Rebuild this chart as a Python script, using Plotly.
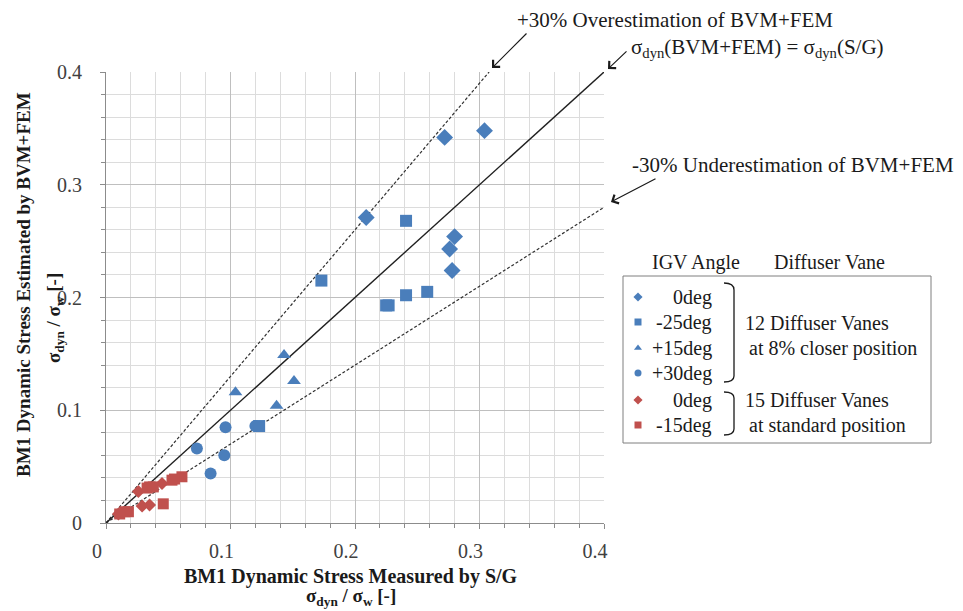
import plotly.graph_objects as go

# ---------------- data ----------------
blue_dia_x = [0.272, 0.304, 0.209, 0.280, 0.276, 0.278]
blue_dia_y = [0.342, 0.348, 0.271, 0.254, 0.243, 0.224]

blue_sq_x = [0.241, 0.173, 0.241, 0.258, 0.225, 0.227, 0.123]
blue_sq_y = [0.268, 0.215, 0.202, 0.205, 0.193, 0.193, 0.086]

blue_tri_x = [0.143, 0.151, 0.104, 0.137]
blue_tri_y = [0.149, 0.126, 0.116, 0.104]

blue_cir_x = [0.096, 0.120, 0.073, 0.095, 0.084]
blue_cir_y = [0.085, 0.086, 0.066, 0.060, 0.044]

red_dia_x = [0.026, 0.045, 0.029, 0.035, 0.010]
red_dia_y = [0.028, 0.035, 0.015, 0.016, 0.008]

red_sq_x = [0.061, 0.055, 0.053, 0.035, 0.033, 0.038, 0.046, 0.015, 0.018, 0.011]
red_sq_y = [0.041, 0.039, 0.038, 0.032, 0.031, 0.032, 0.017, 0.010, 0.010, 0.008]

# reference lines
eq_x, eq_y = [0, 0.4], [0, 0.4]
over_x, over_y = [0, 0.4 / 1.3], [0, 0.4]
under_x, under_y = [0, 0.4], [0, 0.28]

x_ticks = [0, 0.1, 0.2, 0.3, 0.4]
y_ticks = [0, 0.1, 0.2, 0.3, 0.4]

legend_labels = ["0deg", "-25deg", "+15deg", "+30deg", "0deg", "-15deg"]
legend_symbols = ["diamond", "square", "triangle-up", "circle", "diamond", "square"]
BLUE = "#4a7ebb"
RED = "#c0504d"
legend_colors = [BLUE, BLUE, BLUE, BLUE, RED, RED]

W, H = 963, 611
SERIF = "Liberation Serif"

fig = go.Figure()

# reference lines
fig.add_trace(go.Scatter(x=over_x, y=over_y, mode="lines",
                         line=dict(color="#303030", width=1.2, dash="3px,2px"),
                         hoverinfo="skip"))
fig.add_trace(go.Scatter(x=under_x, y=under_y, mode="lines",
                         line=dict(color="#303030", width=1.2, dash="3px,2px"),
                         hoverinfo="skip"))
fig.add_trace(go.Scatter(x=eq_x, y=eq_y, mode="lines",
                         line=dict(color="#202020", width=1.4), hoverinfo="skip"))

def pts(x, y, sym, col, size):
    fig.add_trace(go.Scatter(x=x, y=y, mode="markers",
                             marker=dict(symbol=sym, color=col, size=size,
                                         line=dict(width=0))))

pts(red_dia_x, red_dia_y, "diamond", RED, 10)
pts(red_sq_x, red_sq_y, "square", RED, 11)
pts(blue_cir_x, blue_cir_y, "circle", BLUE, 12)
pts(blue_tri_x, blue_tri_y, "triangle-up", BLUE, 12)
pts(blue_sq_x, blue_sq_y, "square", BLUE, 12)
pts(blue_dia_x, blue_dia_y, "diamond", BLUE, 13)

# legend markers on a pixel overlay axis
leg_rows_y = [297, 322, 348, 373, 400, 425]
for sym, col, ry in zip(legend_symbols, legend_colors, leg_rows_y):
    fig.add_trace(go.Scatter(x=[638], y=[ry], mode="markers", xaxis="x2", yaxis="y2",
                             marker=dict(symbol=sym, color=col, size=7, line=dict(width=0)),
                             hoverinfo="skip"))

axis_common = dict(
    range=[0, 0.4], tick0=0, dtick=0.1,
    showgrid=True, gridcolor="#bfbfbf", gridwidth=1,
    minor=dict(dtick=0.02, showgrid=True, gridcolor="#dcdcdc", gridwidth=1,
               ticks="outside", ticklen=4, tickcolor="#8c8c8c"),
    ticks="outside", ticklen=5, tickcolor="#8c8c8c",
    showline=True, linecolor="#8c8c8c", linewidth=1,
    zeroline=False, automargin=False,
    tickfont=dict(family=SERIF, size=20, color="#404040"),
    fixedrange=True,
)

fig.update_layout(
    width=W, height=H,
    margin=dict(l=0, r=0, t=0, b=0, autoexpand=False),
    paper_bgcolor="white", plot_bgcolor="rgba(0,0,0,0)",
    showlegend=False,
    font=dict(family=SERIF),
    xaxis=dict(domain=[106 / W, 604 / W], anchor="y", ticklabelshift=-9,
               ticklabelstandoff=5, **axis_common),
    yaxis=dict(domain=[(H - 523) / H, (H - 72) / H], anchor="x",
               ticklabelstandoff=14, **axis_common),
    xaxis2=dict(domain=[0, 1], range=[0, W], visible=False, anchor="y2",
                fixedrange=True, automargin=False),
    yaxis2=dict(domain=[0, 1], range=[H, 0], visible=False, anchor="x2",
                fixedrange=True, automargin=False),
)

ann = []

def txt(x, y, s, size=20, bold=False, xanchor="left", angle=0, color="#1a1a1a"):
    if bold:
        s = "<b>" + s + "</b>"
    ann.append(dict(x=x, y=y, xref="x2", yref="y2", text=s, showarrow=False,
                    xanchor=xanchor, yanchor="middle", textangle=angle,
                    font=dict(family=SERIF, size=size, color=color)))

SIG = "σ<sub>dyn</sub> / σ<sub>w</sub> [-]"
# axis titles
txt(351, 576, "BM1 Dynamic Stress Measured by S/G", size=20, bold=True, xanchor="center")
txt(351, 597, SIG, size=19, bold=True, xanchor="center")
txt(23, 285, "BM1 Dynamic Stress Estimated by BVM+FEM", size=19, bold=True,
    xanchor="center", angle=-90)
txt(55, 318, SIG, size=19, bold=True, xanchor="center", angle=-90)

# line labels
txt(515, 20, "+30% Overestimation of BVM+FEM", size=21)
txt(629, 48, "σ<sub>dyn</sub>(BVM+FEM) = σ<sub>dyn</sub>(S/G)", size=21)
txt(630, 165, "-30% Underestimation of BVM+FEM", size=21)

# arrows (tip, tail) in pixel coordinates
arrows = [((492, 68), (528, 32)), ((608, 69), (628, 50)), ((611, 202), (657, 178))]
for (tx, ty), (sx, sy) in arrows:
    ann.append(dict(x=tx, y=ty, xref="x2", yref="y2", ax=sx, ay=sy,
                    axref="x2", ayref="y2", text="", showarrow=True,
                    arrowhead=4, arrowsize=1.6, arrowwidth=1.2, arrowcolor="#1a1a1a"))

# legend
txt(650, 262, "IGV Angle", size=20)
txt(772, 262, "Diffuser Vane", size=20)
for lab, ry in zip(legend_labels, leg_rows_y):
    txt(714, ry, lab, size=20, xanchor="right")
txt(743, 323, "12 Diffuser Vanes", size=20)
txt(747, 348, "at 8% closer position", size=20)
txt(743, 400, "15 Diffuser Vanes", size=20)
txt(747, 425, "at standard position", size=20)

fig.update_layout(annotations=ann)

shapes = [
    dict(type="rect", xref="x2", yref="y2", x0=623, y0=276, x1=931, y1=443,
         line=dict(color="#7f7f7f", width=1), fillcolor="rgba(0,0,0,0)"),
    dict(type="path", xref="x2", yref="y2",
         path="M 724,283 Q 734,283 734,290 L 734,376 Q 734,382 724,382",
         line=dict(color="#1a1a1a", width=1.3)),
    dict(type="path", xref="x2", yref="y2",
         path="M 724,392 Q 734,392 734,398 L 734,429 Q 734,435 724,435",
         line=dict(color="#1a1a1a", width=1.3)),
]
fig.update_layout(shapes=shapes)

fig.write_html("out.html")
